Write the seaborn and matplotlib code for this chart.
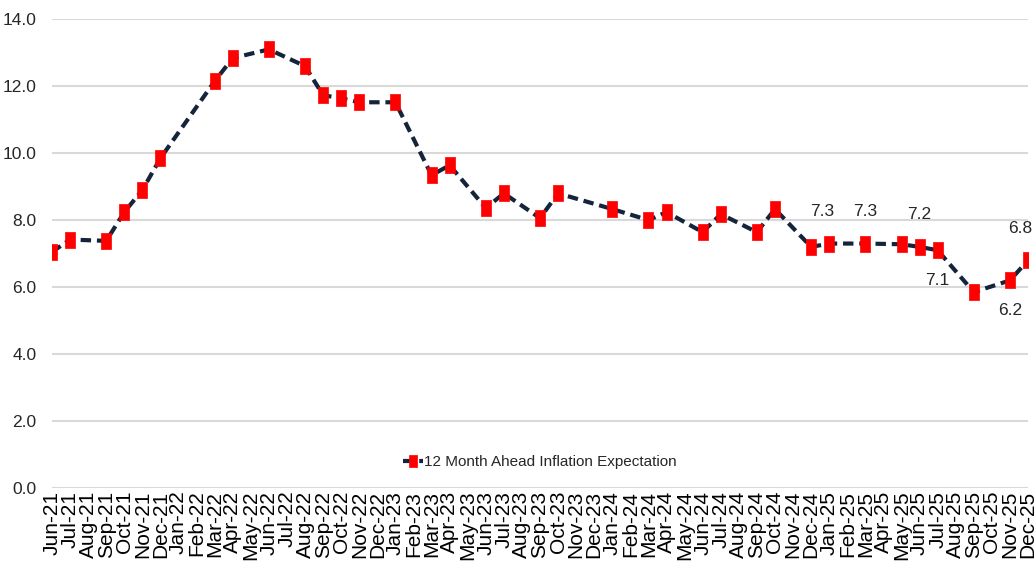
#!/usr/bin/env python3
# -*- coding:utf-8 -*-
import numpy as np
import pandas as pd
import matplotlib
matplotlib.use("Agg")
import matplotlib.pyplot as plt
import seaborn as sns

# every month on the category axis
months = ["Jun-21", "Jul-21", "Aug-21", "Sep-21", "Oct-21", "Nov-21", "Dec-21",
          "Jan-22", "Feb-22", "Mar-22", "Apr-22", "May-22", "Jun-22", "Jul-22",
          "Aug-22", "Sep-22", "Oct-22", "Nov-22", "Dec-22",
          "Jan-23", "Feb-23", "Mar-23", "Apr-23", "May-23", "Jun-23", "Jul-23",
          "Aug-23", "Sep-23", "Oct-23", "Nov-23", "Dec-23",
          "Jan-24", "Feb-24", "Mar-24", "Apr-24", "May-24", "Jun-24", "Jul-24",
          "Aug-24", "Sep-24", "Oct-24", "Nov-24", "Dec-24",
          "Jan-25", "Feb-25", "Mar-25", "Apr-25", "May-25", "Jun-25", "Jul-25",
          "Aug-25", "Sep-25", "Oct-25", "Nov-25", "Dec-25"]

# survey rounds (not every month has one)
survey_months = ["Jun-21", "Jul-21", "Sep-21", "Oct-21", "Nov-21", "Dec-21",
                 "Mar-22", "Apr-22", "Jun-22", "Aug-22", "Sep-22", "Oct-22",
                 "Nov-22", "Jan-23", "Mar-23", "Apr-23", "Jun-23", "Jul-23",
                 "Sep-23", "Oct-23", "Jan-24", "Mar-24", "Apr-24", "Jun-24",
                 "Jul-24", "Sep-24", "Oct-24", "Dec-24", "Jan-25", "Mar-25",
                 "May-25", "Jun-25", "Jul-25", "Sep-25", "Nov-25", "Dec-25"]
expectation = [7.05, 7.42, 7.38, 8.24, 8.9, 9.85,
               12.15, 12.84, 13.1, 12.6, 11.73, 11.64,
               11.52, 11.52, 9.34, 9.64, 8.36, 8.8,
               8.06, 8.8, 8.33, 8.0, 8.24, 7.64,
               8.18, 7.64, 8.33, 7.2, 7.3, 7.3,
               7.28, 7.2, 7.1, 5.85, 6.2, 6.8]

# data labels shown on the chart: month, text, above/below
label_months = ["Jan-25", "Mar-25", "Jun-25", "Jul-25", "Nov-25", "Dec-25"]
label_texts = ["7.3", "7.3", "7.2", "7.1", "6.2", "6.8"]
label_above = [True, True, True, False, False, True]

SANS = ["Liberation Sans", "DejaVu Sans"]


def main():
    sns.set_theme(style="white")
    plt.rcParams["font.family"] = SANS

    df = pd.DataFrame({"month": survey_months, "value": expectation})
    df["pos"] = [months.index(m) for m in df["month"]]

    fig = plt.figure(figsize=(10.36, 5.83), dpi=100)
    ax = fig.add_axes([0.0502, 0.163, 0.9421, 0.804])

    for v in np.arange(0, 14.1, 2):
        ax.axhline(v, color="#d9d9d9", lw=1.5, zorder=0)

    rect = [(-0.3, -0.5), (0.3, -0.5), (0.3, 0.5), (-0.3, 0.5), (-0.3, -0.5)]
    sns.lineplot(data=df, x="pos", y="value", ax=ax, color="#14243a",
                 lw=3.0, linestyle=(0, (2.5, 1.4)), marker=rect,
                 markersize=11.5, markerfacecolor="#ff0000",
                 markeredgecolor="#ff0000", markeredgewidth=0.5,
                 label="12 Month Ahead Inflation Expectation", zorder=3)

    for m, t, up in zip(label_months, label_texts, label_above):
        i = survey_months.index(m)
        dx = -6 if m == months[-1] else (-5 if m == "Jan-25" else 0)
        ax.annotate(t, (months.index(m), expectation[i]),
                    xytext=(dx, 23 if up else -22), textcoords="offset points",
                    ha="center", va="center", fontsize=12.5, color="#262626")

    ax.set_xlim(0, len(months) - 1)
    ax.set_ylim(0, 14)
    ax.set_xticks(range(len(months)))
    ax.set_xticklabels(months, rotation=90, fontsize=15, color="#000000")
    ax.set_yticks(np.arange(0, 14.1, 2))
    ax.set_yticklabels(["{:.1f}".format(v) for v in np.arange(0, 14.1, 2)],
                       fontsize=12.5, color="#262626")
    ax.tick_params(axis="x", length=0, pad=2)
    ax.tick_params(axis="y", length=0, pad=11)
    ax.set_xlabel("")
    ax.set_ylabel("")
    for s in ax.spines.values():
        s.set_visible(False)

    ax.legend(loc="center", bbox_to_anchor=(0.5, 0.055), frameon=False,
              prop={"size": 11}, handlelength=1.3,
              handletextpad=0.1, markerscale=0.8)

    fig.savefig("out.png", dpi=100)


if __name__ == '__main__':
    main()
